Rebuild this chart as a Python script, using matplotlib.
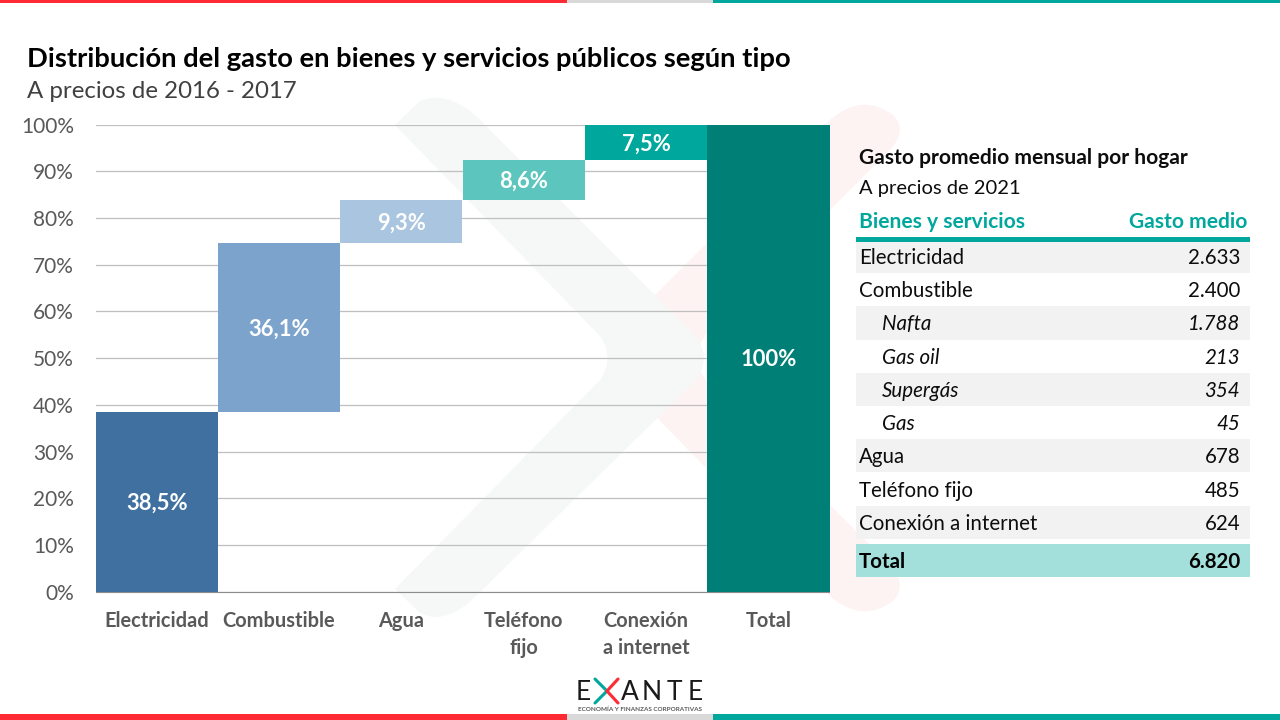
import matplotlib
matplotlib.use('Agg')
import matplotlib.pyplot as plt
from matplotlib.patches import PathPatch, Rectangle
from matplotlib.path import Path

plt.rcParams['font.family'] = ['Lato', 'DejaVu Sans']

categorias = ['Electricidad', 'Combustible', 'Agua', 'Teléfono\nfijo', 'Conexión\na internet', 'Total']
valores = [38.5, 36.1, 9.3, 8.6, 7.5, 100]
etiquetas = ['38,5%', '36,1%', '9,3%', '8,6%', '7,5%', '100%']
colores = ['#40709F', '#7BA3CC', '#A9C5DF', '#5CC6BE', '#00A79C', '#007F76']

filas = ['Electricidad', 'Combustible', 'Nafta', 'Gas oil', 'Supergás', 'Gas', 'Agua', 'Teléfono fijo', 'Conexión a internet']
gastos = ['2.633', '2.400', '1.788', '213', '354', '45', '678', '485', '624']
subfilas = ['Nafta', 'Gas oil', 'Supergás', 'Gas']

W, H = 1280, 720
fig = plt.figure(figsize=(12.8, 7.2), dpi=100)

# capa de fondo en pixeles: marca de agua
bg = fig.add_axes([0, 0, 1, 1], zorder=0)
bg.set_xlim(0, W)
bg.set_ylim(H, 0)
bg.axis('off')

M, L, C = Path.MOVETO, Path.LINETO, Path.CURVE3
rojo = [((640, 310), M), ((830, 120), L), ((862, 92), C), ((893, 115), C), ((908, 130), C), ((890, 150), C),
        ((710, 330), L), ((684, 357), C), ((710, 385), C), ((890, 565), L), ((908, 585), C), ((893, 601), C),
        ((862, 624), C), ((830, 596), C), ((640, 400), L), ((640, 310), L)]
gris = [((395, 125), M), ((420, 101), L), ((445, 90), C), ((475, 115), C), ((690, 330), L), ((718, 358), C),
        ((690, 386), C), ((475, 597), L), ((445, 626), C), ((420, 613), C), ((395, 589), L), ((600, 380), L),
        ((615, 358), C), ((600, 336), C), ((395, 125), L)]
for pts, col in [(rojo, '#FEF3F3'), (gris, '#F5F8F7')]:
    bg.add_patch(PathPatch(Path([p[0] for p in pts], [p[1] for p in pts]), fc=col, ec='none'))

# franjas
for y0, h in [(0, 3), (714, 6)]:
    bg.add_patch(Rectangle((0, y0), 567, h, fc='#FF2A33', ec='none'))
    bg.add_patch(Rectangle((567, y0), 146, h, fc='#D9D9D9', ec='none'))
    bg.add_patch(Rectangle((713, y0), 567, h, fc='#00A79C', ec='none'))

# grafico de cascada
ax = fig.add_axes([95.5 / W, 1 - 591.6 / H, 734 / W, 467 / H], zorder=1)
ax.patch.set_alpha(0)
base = 0
pos = range(len(valores))
for i, v in enumerate(valores):
    b = 0 if i == len(valores) - 1 else base
    ax.bar(i, v, bottom=b, width=1, color=colores[i], zorder=3)
    ax.annotate(etiquetas[i], (i, b + v / 2), xytext=(0, -1.2), textcoords='offset points',
                color='white', fontsize=15.8, fontweight='bold', ha='center', va='center', zorder=4)
    base += v
ax.set_xlim(-0.5, 5.5)
ax.set_ylim(0, 100)
ax.set_yticks(range(0, 101, 10))
ax.set_yticklabels([f'{t}%' for t in range(0, 101, 10)], fontsize=15, color='#595959')
ax.set_xticks(list(pos))
ax.set_xticklabels(categorias, fontsize=14.4, fontweight='bold', color='#595959', linespacing=1.45)
ax.tick_params(axis='both', length=0)
ax.tick_params(axis='y', pad=15.4)
ax.tick_params(axis='x', pad=14)
ax.grid(axis='y', color='#BFBFBF', lw=0.9, zorder=1)
ax.set_axisbelow(True)
for s in ['top', 'right', 'left']:
    ax.spines[s].set_visible(False)
ax.spines['bottom'].set_color('#8C8C8C')

# capa de textos y tabla
fg = fig.add_axes([0, 0, 1, 1], zorder=2)
fg.set_xlim(0, W)
fg.set_ylim(H, 0)
fg.axis('off')
fg.patch.set_alpha(0)

fg.text(27, 59, 'Distribución del gasto en bienes y servicios públicos según tipo', fontsize=19.7,
        fontweight='bold', color='black', va='center')
fg.text(27, 92, 'A precios de 2016 - 2017', fontsize=17.3, color='#404040', va='center')

fg.text(859, 158, 'Gasto promedio mensual por hogar', fontsize=15.1, fontweight='bold', color='#0D0D0D', va='center')
fg.text(859, 188.5, 'A precios de 2021', fontsize=14.5, color='#0D0D0D', va='center')
fg.text(859, 222, 'Bienes y servicios', fontsize=15.1, fontweight='bold', color='#00A79C', va='center')
fg.text(1247, 222, 'Gasto medio', fontsize=15.1, fontweight='bold', color='#00A79C', va='center', ha='right')
fg.add_patch(Rectangle((856, 237), 394, 5, fc='#00A79C', ec='none'))

alto = 33.2
for i, (f, g) in enumerate(zip(filas, gastos)):
    y0 = 240 + i * alto
    if i % 2 == 0:
        fg.add_patch(Rectangle((856, y0 if i else 242), 394, alto if i else alto - 2, fc='#F2F2F2', ec='none'))
    sub = f in subfilas
    estilo = 'italic' if sub else 'normal'
    fg.text(882 if sub else 859, y0 + alto / 2 + 1.5, f, fontsize=14.8, style=estilo, color='#0D0D0D', va='center')
    fg.text(1240, y0 + alto / 2 + 1.5, g, fontsize=14.8, style=estilo, color='#0D0D0D', va='center', ha='right')
fg.add_patch(Rectangle((856, 544), 394, 33, fc='#A3E0DB', ec='none'))
fg.text(859, 562.5, 'Total', fontsize=14.8, fontweight='bold', color='black', va='center')
fg.text(1240, 562.5, '6.820', fontsize=14.8, fontweight='bold', color='black', va='center', ha='right')

# logo
for t, x in zip('EANTE', [583, 630, 651.5, 674.5, 695]):
    fg.text(x, 692, t, fontsize=19, color='#1A1A1A', va='center', ha='center')
fg.plot([595, 607, 595], [679, 691, 703], color='#00A79C', lw=2.2, solid_capstyle='round')
fg.plot([618, 607, 618], [679, 691, 703], color='#FF2A33', lw=2.2, solid_capstyle='round')
fg.text(639.5, 709, 'ECONOMÍA Y FINANZAS CORPORATIVAS', fontsize=4.6, fontweight='bold', color='#595959',
        ha='center', va='center')

fig.savefig('out.png', dpi=100)
